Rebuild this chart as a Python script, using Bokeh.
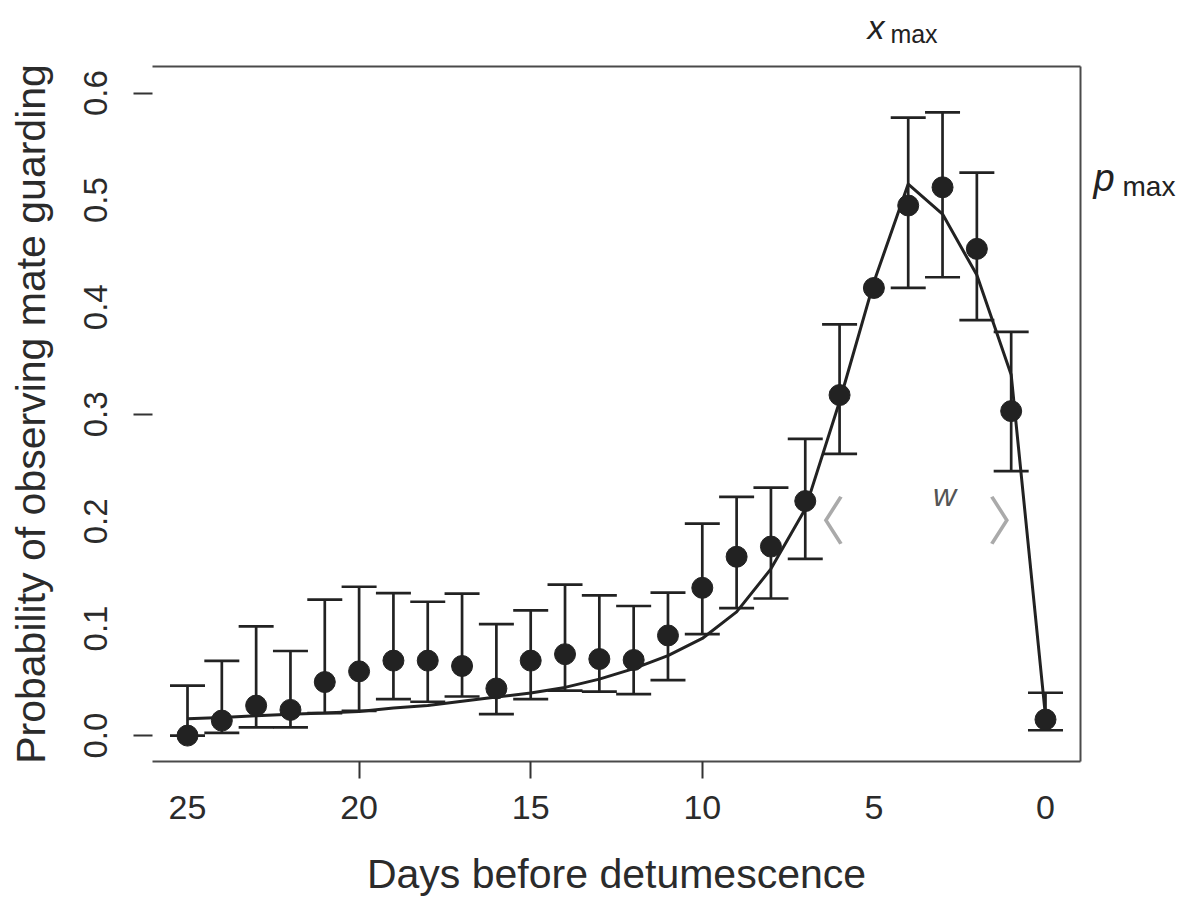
import numpy as np
from bokeh.plotting import figure
from bokeh.models import (Range1d, FixedTicker, LinearAxis, Whisker, TeeHead,
                          ColumnDataSource, Label, PrintfTickFormatter)
from bokeh.embed import file_html
from bokeh.resources import INLINE

# ---- data ----
days = [25, 24, 23, 22, 21, 20, 19, 18, 17, 16, 15, 14, 13, 12, 11, 10, 9, 8, 7, 6, 5, 4, 3, 2, 1, 0]
prob = [0.0, 0.014, 0.028, 0.024, 0.050, 0.060, 0.070, 0.070, 0.065, 0.044, 0.070, 0.076, 0.0715,
        0.0706, 0.0935, 0.138, 0.167, 0.1765, 0.219, 0.318, 0.418, 0.495, 0.512, 0.4545, 0.303, 0.015]
lower = [0.0, 0.0025, 0.0077, 0.0077, 0.021, 0.023, 0.034, 0.0316, 0.0365, 0.020, 0.034, 0.042, 0.041,
         0.0387, 0.0517, 0.0947, 0.119, 0.128, 0.165, 0.263, np.nan, 0.418, 0.428, 0.388, 0.247, 0.005]
upper = [0.0467, 0.0697, 0.102, 0.079, 0.127, 0.139, 0.133, 0.125, 0.1325, 0.104, 0.117, 0.141, 0.131,
         0.121, 0.1335, 0.198, 0.223, 0.2315, 0.277, 0.384, np.nan, 0.577, 0.582, 0.5257, 0.377, 0.040]
fit = [0.0158, 0.017, 0.0186, 0.020, 0.021, 0.0226, 0.0257, 0.028, 0.032, 0.036, 0.0397, 0.045, 0.0527,
       0.0625, 0.0746, 0.0907, 0.1155, 0.1557, 0.2115, 0.312, 0.4235, 0.515, 0.487, 0.430, 0.337, 0.018]

x_ticks = [25, 20, 15, 10, 5, 0]
x_tick_marks = [20, 15, 10]
y_ticks = [0.0, 0.1, 0.2, 0.3, 0.4, 0.5, 0.6]
y_tick_marks = [0.0, 0.3, 0.6]

FONT = "Liberation Sans"
INK = "#222222"
FRAME = "#4a4a4a"

p = figure(width=1185, height=899,
           x_range=Range1d(26.02, -1.02), y_range=Range1d(-0.0242, 0.6248),
           output_backend="svg", toolbar_location=None,
           min_border_left=152, min_border_right=105, min_border_top=64, min_border_bottom=137,
           x_axis_type=None, y_axis_type=None)
p.grid.visible = False
p.outline_line_color = None
p.background_fill_color = "white"
p.border_fill_color = "white"

# bottom axis
xa = LinearAxis(ticker=FixedTicker(ticks=x_ticks, minor_ticks=x_tick_marks))
xa.axis_line_color = FRAME
xa.axis_line_width = 2
xa.major_tick_line_color = None
xa.major_tick_out = 0
xa.major_tick_in = 0
xa.minor_tick_line_color = "#333333"
xa.minor_tick_line_width = 2
xa.minor_tick_out = 17
xa.minor_tick_in = 0
xa.major_label_text_font = FONT
xa.major_label_text_font_size = "34px"
xa.major_label_text_color = "#2b2b2b"
xa.major_label_standoff = 17
xa.axis_label = "Days before detumescence"
xa.axis_label_text_font = FONT
xa.axis_label_text_font_size = "41px"
xa.axis_label_text_font_style = "normal"
xa.axis_label_text_color = "#2b2b2b"
xa.axis_label_standoff = 29
p.add_layout(xa, "below")

# left axis
ya = LinearAxis(ticker=FixedTicker(ticks=y_ticks, minor_ticks=y_tick_marks),
                formatter=PrintfTickFormatter(format="%.1f"))
ya.axis_line_color = None
ya.major_tick_line_color = None
ya.major_tick_out = 0
ya.major_tick_in = 0
ya.minor_tick_line_color = "#333333"
ya.minor_tick_line_width = 2
ya.minor_tick_out = 19
ya.minor_tick_in = 0
ya.major_label_orientation = "vertical"
ya.major_label_text_font = FONT
ya.major_label_text_font_size = "33px"
ya.major_label_text_color = "#2b2b2b"
ya.major_label_standoff = 26
ya.axis_label = "Probability of observing mate guarding"
ya.axis_label_text_font = FONT
ya.axis_label_text_font_size = "41px"
ya.axis_label_text_font_style = "normal"
ya.axis_label_text_color = "#2b2b2b"
ya.axis_label_standoff = 28
p.add_layout(ya, "left")

# top and right frame lines (no ticks)
for loc in ("above", "right"):
    ax = LinearAxis(ticker=FixedTicker(ticks=[]))
    ax.axis_line_color = FRAME
    ax.axis_line_width = 2
    ax.major_tick_line_color = None
    ax.minor_tick_line_color = None
    ax.major_label_text_font_size = "0px"
    p.add_layout(ax, loc)

# fitted curve
p.line(days, fit, line_color=INK, line_width=3)

# error bars (skip missing)
lo = np.array(lower, dtype=float)
hi = np.array(upper, dtype=float)
d = np.array(days, dtype=float)
ok = ~np.isnan(lo)
src = ColumnDataSource(dict(base=d[ok], lower=lo[ok], upper=hi[ok]))
w = Whisker(base="base", lower="lower", upper="upper", source=src,
            line_color=INK, line_width=2.7,
            upper_head=TeeHead(size=35, line_color=INK, line_width=2.7),
            lower_head=TeeHead(size=35, line_color=INK, line_width=2.7))
p.add_layout(w)

# points
p.scatter(days, prob, size=21, fill_color=INK, line_color=INK)

# annotations outside the frame (placed in side panels so they are not clipped)
p.add_layout(Label(x=5.19, y=0.6546, y_offset=8, text="x", text_font=FONT, text_font_style="italic",
                   text_font_size="34px", text_color=INK, text_baseline="alphabetic"), "above")
p.add_layout(Label(x=5.19, y=0.6546, x_offset=23, y_offset=1, text="max", text_font=FONT,
                   text_font_size="25px", text_color=INK, text_baseline="alphabetic"), "above")
p.add_layout(Label(x=-1.4, y=0.515, y_offset=6, text="p", text_font=FONT, text_font_style="italic",
                   text_font_size="38px", text_color=INK, text_baseline="alphabetic"), "right")
p.add_layout(Label(x=-1.4, y=0.515, x_offset=29, y_offset=-2, text="max", text_font=FONT,
                   text_font_size="28px", text_color=INK, text_baseline="alphabetic"), "right")

# annotations inside the frame
p.add_layout(Label(x=2.94, y=0.225, text="w", text_font=FONT, text_font_style="italic",
                   text_font_size="32px", text_color="#555555", text_align="center",
                   text_baseline="middle"))
p.add_layout(Label(x=6.27, y=0.2, x_offset=-11, y_offset=4, text="\u3008", text_font="Noto Sans CJK JP",
                   text_font_size="52px", text_color="#aaaaaa", text_align="center",
                   text_baseline="middle"))
p.add_layout(Label(x=1.31, y=0.2, x_offset=13, y_offset=4, text="\u3009", text_font="Noto Sans CJK JP",
                   text_font_size="52px", text_color="#aaaaaa", text_align="center",
                   text_baseline="middle"))

open("out.html", "w").write(file_html(p, INLINE))
